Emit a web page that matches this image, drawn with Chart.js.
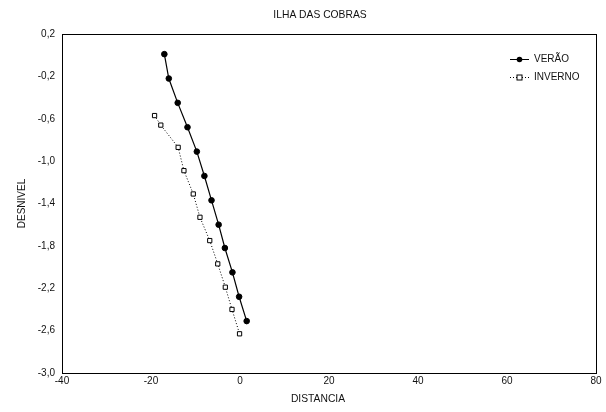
<!DOCTYPE html>
<html>
<head>
<meta charset="utf-8">
<script src="https://cdn.jsdelivr.net/npm/chart.js@4.4.1/dist/chart.umd.min.js"></script>
<style>
  html, body { margin: 0; padding: 0; background: #fff; }
  #wrap { width: 606px; height: 412px; }
</style>
</head>
<body>
<div id="wrap"><canvas id="chart_1"></canvas></div>
<script>
// data
var seriesNames = ["VERÃO", "INVERNO"];
var veraoX = [-17.0, -16.0, -14.0, -11.8, -9.7, -8.0, -6.4, -4.8, -3.4, -1.7, -0.2, 1.5];
var veraoY = [0.01, -0.22, -0.45, -0.68, -0.91, -1.14, -1.37, -1.60, -1.82, -2.05, -2.28, -2.51];
var invernoX = [-19.2, -17.8, -13.9, -12.6, -10.5, -9.0, -6.8, -5.0, -3.3, -1.8, -0.1];
var invernoY = [-0.57, -0.66, -0.87, -1.09, -1.31, -1.53, -1.75, -1.97, -2.19, -2.40, -2.63];

var chartTitle = "ILHA DAS COBRAS";
var xTitle = "DISTANCIA";
var yTitle = "DESNIVEL";

function toPoints(xs, ys) {
  return xs.map(function (x, i) { return { x: x, y: ys[i] }; });
}

var font = "'Liberation Sans', Arial, sans-serif";
Chart.defaults.font.family = font;
Chart.defaults.font.size = 10;
Chart.defaults.color = '#111';

// frame round the plot, titles, and a hand drawn legend (line with marker)
var framePlugin = {
  id: 'frame',
  afterDraw: function (chart) {
    var ctx = chart.ctx, a = chart.chartArea;
    ctx.save();
    ctx.strokeStyle = '#000';
    ctx.lineWidth = 1;
    ctx.strokeRect(Math.round(a.left) + 0.5, Math.round(a.top) + 0.5,
      Math.round(a.right - a.left), Math.round(a.bottom - a.top));

    ctx.fillStyle = '#111';
    ctx.font = '10.3px ' + font;
    ctx.textAlign = 'center';
    ctx.textBaseline = 'middle';
    ctx.fillText(chartTitle, 320, 15);
    ctx.fillText(xTitle, 318, 399);

    ctx.textAlign = 'left';
    var rows = [59, 77];
    chart.data.datasets.forEach(function (ds, i) {
      var y = rows[i] + 0.5;
      ctx.beginPath();
      ctx.setLineDash(ds.borderDash || []);
      ctx.moveTo(510, y);
      ctx.lineTo(529, y);
      ctx.strokeStyle = '#000';
      ctx.stroke();
      ctx.setLineDash([]);
      if (ds.pointStyle === 'rect') {
        ctx.fillStyle = '#fff';
        ctx.fillRect(517, y - 2.5, 5, 5);
        ctx.strokeRect(517, y - 2.5, 5, 5);
      } else {
        ctx.beginPath();
        ctx.arc(519.5, y, 2.8, 0, Math.PI * 2);
        ctx.fillStyle = '#000';
        ctx.fill();
      }
      ctx.fillStyle = '#111';
      ctx.font = '10px ' + font;
      ctx.fillText(ds.label, 534, y);
    });
    ctx.restore();
  }
};

new Chart("chart_1", {
  type: "scatter",
  data: {
    datasets: [{
      label: seriesNames[0],
      data: toPoints(veraoX, veraoY),
      showLine: true,
      borderColor: '#000',
      borderWidth: 1.2,
      backgroundColor: '#000',
      pointStyle: 'circle',
      pointRadius: 2.8,
      pointBorderWidth: 1,
      pointBackgroundColor: '#000'
    }, {
      label: seriesNames[1],
      data: toPoints(invernoX, invernoY),
      showLine: true,
      borderColor: '#000',
      borderWidth: 1,
      borderDash: [1, 2],
      pointStyle: 'rect',
      pointRadius: 3,
      pointBorderWidth: 1,
      pointBackgroundColor: '#fff'
    }]
  },
  options: {
    responsive: true,
    maintainAspectRatio: false,
    animation: false,
    layout: { padding: { left: 0, right: 10, top: 34, bottom: 0 } },
    plugins: {
      legend: { display: false },
      tooltip: { enabled: false },
      title: { display: false }
    },
    scales: {
      x: {
        type: 'linear',
        min: -40,
        max: 80,
        ticks: { stepSize: 20, padding: 2, color: '#111' },
        grid: { display: false, drawTicks: false },
        border: { display: false },
        afterFit: function (s) { s.height = 39; }
      },
      y: {
        type: 'linear',
        min: -3.0,
        max: 0.2,
        ticks: {
          stepSize: 0.4,
          padding: 7,
          color: '#111',
          callback: function (v) { return v.toFixed(1).replace('.', ','); }
        },
        grid: { display: false, drawTicks: false },
        border: { display: false },
        title: { display: true, text: yTitle, color: '#111', font: { size: 10 }, padding: { top: 16, bottom: 0 } },
        afterFit: function (s) { s.width = 62; }
      }
    }
  },
  plugins: [framePlugin]
});
</script>
</body>
</html>
